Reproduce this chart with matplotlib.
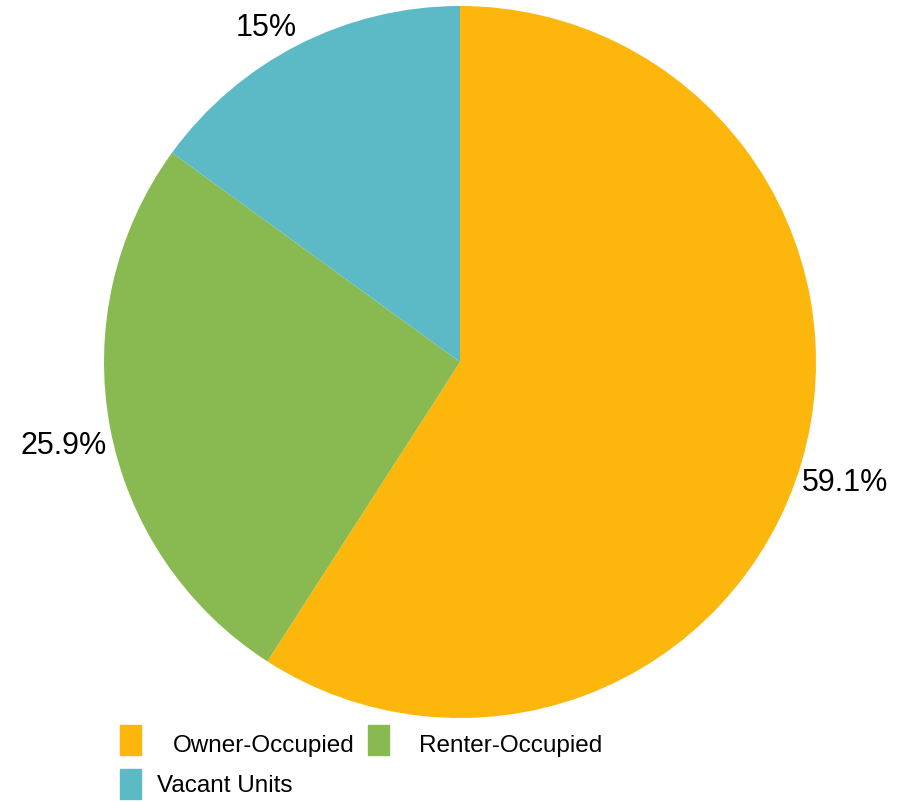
import numpy as np
import matplotlib.pyplot as plt
from matplotlib.patches import Rectangle

plt.rcParams['font.family'] = ['Liberation Sans', 'DejaVu Sans']

categories = ["Owner-Occupied", "Renter-Occupied", "Vacant Units"]
shares = [59.1, 25.9, 15.0]
pct_labels = ["59.1%", "25.9%", "15%"]
colors = ["#FDB60B", "#88BA51", "#5BBAC6"]

W, H = 904, 803
fig = plt.figure(figsize=(W / 100, H / 100), dpi=100)

# pie centre (460,363) px, radius 356 px
cx, cy, r = 460, 363, 356
ax = fig.add_axes([(cx - r) / W, (H - cy - r) / H, 2 * r / W, 2 * r / H])
wedges, _ = ax.pie(shares, colors=colors, startangle=90, counterclock=False,
                   radius=1, wedgeprops=dict(linewidth=0))
ax.set_xlim(-1, 1)
ax.set_ylim(-1, 1)
ax.set_aspect('equal')
ax.axis('off')

# percent labels outside the slices (distance, small angle nudge)
dists = [1.133, 1.137, 1.087]
nudge = [-0.9, 1.2, 3.0]
for w, lab, d, n in zip(wedges, pct_labels, dists, nudge):
    ang = np.deg2rad((w.theta1 + w.theta2) / 2 + n)
    ax.text(d * np.cos(ang), d * np.sin(ang), lab, ha='center', va='center',
            fontsize=22, color='black', clip_on=False)

# legend drawn by hand in pixel coords
leg_boxes = [(120, 726), (368, 726), (120, 770)]
leg_text = [(264, 746), (511, 746), (225, 786)]
for (bx, by), (tx, ty), name, c in zip(leg_boxes, leg_text, categories, colors):
    fig.patches.append(Rectangle((bx / W, 1 - (by + 30) / H), 21 / W, 30 / H,
                                 transform=fig.transFigure, color=c))
    fig.text(tx / W, 1 - ty / H, name, ha='center', va='center', fontsize=17.5)

fig.savefig("out.png", dpi=100)
